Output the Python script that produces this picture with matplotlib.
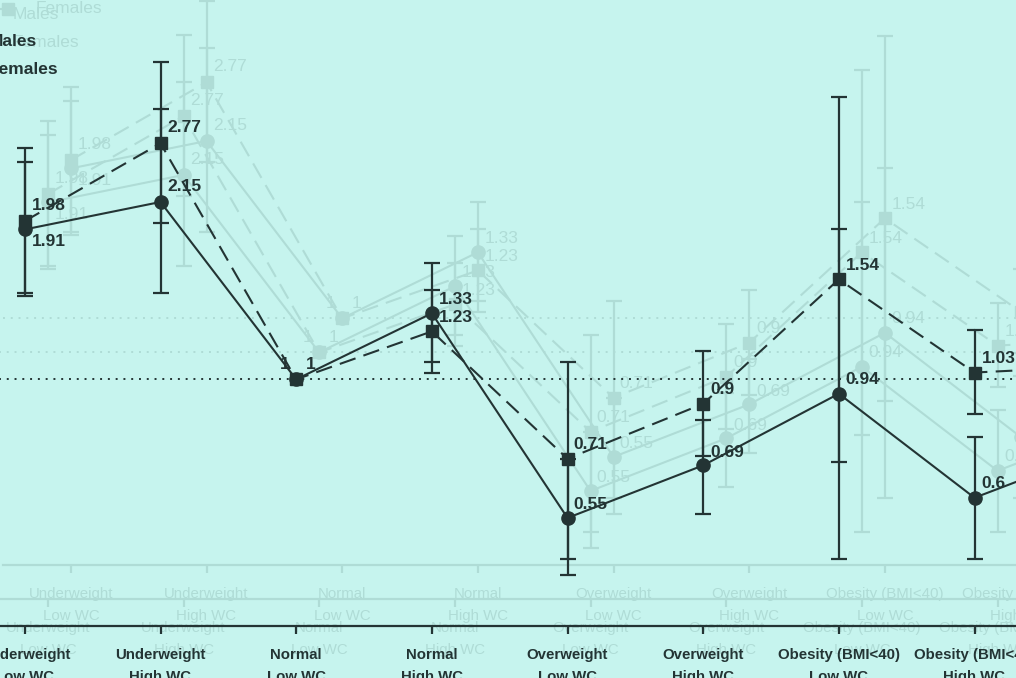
import numpy as np
import matplotlib.pyplot as plt

# categories (the last one is cut off on the right of the picture)
categories = ["Underweight\nLow WC", "Underweight\nHigh WC", "Normal\nLow WC",
              "Normal\nHigh WC", "Overweight\nLow WC", "Overweight\nHigh WC",
              "Obesity (BMI<40)\nLow WC", "Obesity (BMI<40)\nHigh WC",
              "Obesity (BMI\u226540)\nLow WC"]

# odds ratios with 95% CI, Normal Low WC is the reference (=1)
males = [1.91, 2.15, 1, 1.33, 0.55, 0.69, 0.94, 0.6, 0.75]
males_lo = [1.43, 1.45, np.nan, 1.08, 0.43, 0.56, 0.46, 0.46, 0.52]
males_hi = [2.55, 3.21, np.nan, 1.65, 0.71, 0.84, 1.91, 0.78, 1.08]

females = [1.98, 2.77, 1, 1.23, 0.71, 0.9, 1.54, 1.03, 1.06]
females_lo = [1.45, 1.96, np.nan, 1.03, 0.46, 0.72, 0.70, 0.86, 0.80]
females_hi = [2.71, 3.93, np.nan, 1.47, 1.08, 1.13, 3.38, 1.24, 1.40]

legend_labels = ["Males", "Females"]

# label offsets (points) for the value labels
male_off = [(5, -9), (5, 11), (-5, 11), (5, 10), (4, 10), (5, 9), (5, 10), (5, 10), (5, 10)]
fem_off = [(5, 11), (5, 11), (7, 11), (5, 10), (4, 10), (5, 10), (5, 10), (5, 10), (5, 10)]

bg = '#c6f4ee'
dark = '#233434'
ghost = '#afdcd6'

W, H = 1016, 678
fig = plt.figure(figsize=(W / 100, H / 100), dpi=100, facecolor=bg)


def make_ax(dx, dy):
    ax = fig.add_axes([(-43 + dx) / W, (52 + dy) / H, 1221 / W, 626 / H])
    ax.patch.set_alpha(0)
    return ax


def draw(ax, col, weight):
    x = np.arange(len(categories))
    ax.set_yscale('log')
    ax.set_xlim(-0.5, len(categories) - 0.5)
    ax.set_ylim(0.345, 5.14)
    for s in ['left', 'top', 'right']:
        ax.spines[s].set_visible(False)
    ax.spines['bottom'].set_color(col)
    ax.spines['bottom'].set_linewidth(1.6)
    ax.set_yticks([])
    ax.set_yticks([], minor=True)
    ax.tick_params(axis='y', which='both', left=False, labelleft=False)
    ax.set_xticks(x)
    ax.set_xticklabels(categories, fontsize=10.8, fontweight=weight,
                       color=col, family='Liberation Sans', linespacing=1.75)
    ax.tick_params(axis='x', length=6, width=1.6, color=col, pad=9.5)

    ax.axhline(1, color=col, lw=1.4, ls=(0, (1, 3)))

    series = [(males, males_lo, males_hi, 'o', '-', 9.5, male_off),
              (females, females_lo, females_hi, 's', (0, (8, 4)), 8.5, fem_off)]
    for vals, lo, hi, mk, ls, ms, offs in series:
        v = np.array(vals, float)
        l = np.array(lo, float)
        h = np.array(hi, float)
        ok = ~np.isnan(l)
        ax.errorbar(x[ok], v[ok], yerr=[v[ok] - l[ok], h[ok] - v[ok]], fmt='none',
                    ecolor=col, elinewidth=1.6, capsize=5.5, capthick=1.6)
        ax.plot(x, v, ls=ls, color=col, lw=1.5, marker=mk, ms=ms,
                markerfacecolor=col, markeredgecolor=col)
        for xi, vi, o in zip(x, v, offs):
            ax.annotate(f"{vi:g}", (xi, vi), xytext=o, textcoords='offset points',
                        ha='left' if o[0] >= 0 else 'right', va='center',
                        fontsize=12.5, fontweight=weight, color=col,
                        family='Liberation Sans', zorder=5)

    # legend, mostly outside the visible crop
    for lab, mk, ls, yv in [(legend_labels[0], 'o', '-', 4.29),
                            (legend_labels[1], 's', (0, (8, 4)), 3.80)]:
        ax.plot([-0.58, -0.36], [yv, yv], ls=ls, color=col, lw=1.5, clip_on=False)
        ax.plot([-0.465], [yv], marker=mk, color=col, ms=8, clip_on=False)
        ax.text(-0.262, yv, lab, fontsize=12.5, fontweight=weight, color=col,
                ha='left', va='center', family='Liberation Sans')


# faint echo copies of the chart, then the chart itself on top
draw(make_ax(46, 61), ghost, 'normal')
draw(make_ax(23, 27), ghost, 'normal')
draw(make_ax(0, 0), dark, 'bold')

fig.savefig('out.png', dpi=100, facecolor=bg)
